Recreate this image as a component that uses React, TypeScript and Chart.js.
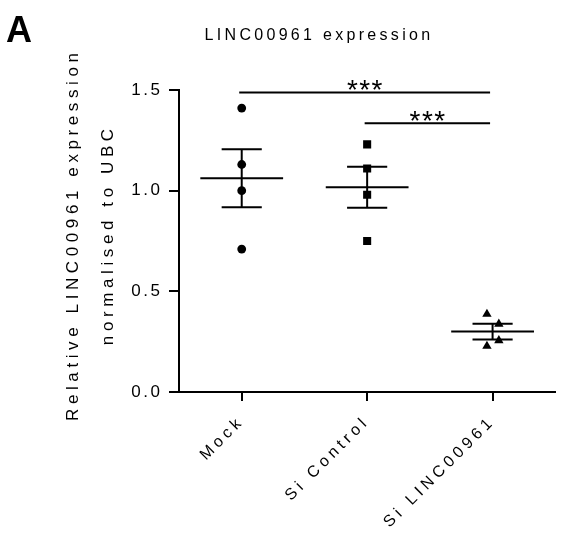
import React, { useEffect, useRef } from 'react';
import { Chart, registerables } from 'chart.js';

Chart.register(...registerables);

const panelLabel = 'A';
const chartTitle = 'LINC00961 expression';
const yTitleLines = ['Relative LINC00961 expression', 'normalised to UBC'];
const categories = ['Mock', 'Si Control', 'Si LINC00961'];
const mockValues = [1.41, 1.13, 1.0, 0.71];
const siControlValues = [1.23, 1.11, 0.98, 0.75];
const siLincValues = [0.387, 0.338, 0.256, 0.228];
const siLincJitter = [-0.045, 0.05, 0.05, -0.045];
const groupMeans = [1.062, 1.017, 0.3];
const groupSems = [0.144, 0.102, 0.039];
const yTicks = [0, 0.5, 1.0, 1.5];
const comparisonFrom = [0, 1];
const comparisonTo = [2, 2];
const comparisonY = [1.488, 1.335];
const comparisonLabels = ['***', '***'];

const FONT = 'Arial, "Liberation Sans", sans-serif';
const MEAN_HALF = 0.33;
const CAP_HALF = 0.16;
const BRACKET_SHIFT = -0.02;

type P = { x: number; y: number | null };

function buildMeanLines(): P[] {
  const out: P[] = [];
  groupMeans.forEach((m, i) => {
    out.push({ x: i - MEAN_HALF, y: m }, { x: i + MEAN_HALF, y: m }, { x: i + 0.45, y: null });
  });
  return out;
}

function buildErrorBars(): P[] {
  const out: P[] = [];
  groupMeans.forEach((m, i) => {
    const s = groupSems[i];
    out.push({ x: i, y: m - s }, { x: i, y: m + s }, { x: i + 0.01, y: null });
    out.push({ x: i - CAP_HALF, y: m + s }, { x: i + CAP_HALF, y: m + s }, { x: i + 0.2, y: null });
    out.push({ x: i - CAP_HALF, y: m - s }, { x: i + CAP_HALF, y: m - s }, { x: i + 0.3, y: null });
  });
  return out;
}

function buildBrackets(): P[] {
  const out: P[] = [];
  comparisonFrom.forEach((f, i) => {
    out.push(
      { x: f + BRACKET_SHIFT, y: comparisonY[i] },
      { x: comparisonTo[i] + BRACKET_SHIFT, y: comparisonY[i] },
      { x: comparisonTo[i] + 0.1, y: null }
    );
  });
  return out;
}

const spacingPlugin = {
  id: 'tickSpacing',
  afterLayout(chart: any) {
    const defs: [string, string][] = [
      ['x', '4.2px'],
      ['y', '2.5px'],
    ];
    for (const [id, sp] of defs) {
      const s = chart.scales[id];
      if (!s || s.__patched) continue;
      const orig = s.drawLabels.bind(s);
      s.drawLabels = (ca: any) => {
        const ctx = chart.ctx;
        ctx.save();
        (ctx as any).letterSpacing = sp;
        orig(ca);
        ctx.restore();
      };
      s.__patched = true;
    }
  },
};

const decorPlugin = {
  id: 'decor',
  afterDraw(chart: any) {
    const ctx: CanvasRenderingContext2D = chart.ctx;
    const xs = chart.scales.x;
    const ys = chart.scales.y;
    ctx.save();
    ctx.fillStyle = '#000';

    ctx.font = `bold 36px ${FONT}`;
    ctx.textAlign = 'left';
    ctx.textBaseline = 'alphabetic';
    ctx.fillText(panelLabel, 6, 42);

    ctx.font = `16px ${FONT}`;
    (ctx as any).letterSpacing = '3.3px';
    ctx.textAlign = 'center';
    ctx.textBaseline = 'middle';
    ctx.fillText(chartTitle, 319, 36);

    ctx.font = `17px ${FONT}`;
    (ctx as any).letterSpacing = '4.6px';
    const cy = (chart.chartArea.top + chart.chartArea.bottom) / 2 - 4;
    const lineX = [73, 108];
    yTitleLines.forEach((t, i) => {
      ctx.save();
      ctx.translate(lineX[i], cy);
      ctx.rotate(-Math.PI / 2);
      ctx.fillText(t, 2.3, 0);
      ctx.restore();
    });

    ctx.font = `28px ${FONT}`;
    (ctx as any).letterSpacing = '1.4px';
    ctx.textBaseline = 'alphabetic';
    comparisonLabels.forEach((lab, i) => {
      const x1 = xs.getPixelForValue(comparisonFrom[i] + BRACKET_SHIFT);
      const x2 = xs.getPixelForValue(comparisonTo[i] + BRACKET_SHIFT);
      const y = ys.getPixelForValue(comparisonY[i]);
      ctx.fillText(lab, (x1 + x2) / 2 + 0.7, y + 7);
    });
    ctx.restore();
  },
};

export default function App() {
  const ref = useRef<HTMLCanvasElement | null>(null);

  useEffect(() => {
    if (!ref.current) return;
    const lineStyle = {
      showLine: true,
      borderColor: '#000',
      borderWidth: 2,
      pointRadius: 0,
      pointHoverRadius: 0,
      fill: false,
      tension: 0,
      spanGaps: false,
      borderCapStyle: 'butt' as const,
    };
    const chart = new Chart(ref.current, {
      type: 'scatter',
      data: {
        datasets: [
          {
            label: categories[0],
            data: mockValues.map((v) => ({ x: 0, y: v })),
            pointStyle: 'circle',
            pointRadius: 4.4,
            backgroundColor: '#000',
            borderWidth: 0,
          },
          {
            label: categories[1],
            data: siControlValues.map((v) => ({ x: 1, y: v })),
            pointStyle: 'rect',
            pointRadius: 5.7,
            backgroundColor: '#000',
            borderWidth: 0,
          },
          {
            label: categories[2],
            data: siLincValues.map((v, i) => ({ x: 2 + siLincJitter[i], y: v })),
            pointStyle: 'triangle',
            pointRadius: 5.4,
            backgroundColor: '#000',
            borderWidth: 0,
          },
          { label: 'mean', data: buildMeanLines() as any, ...lineStyle },
          { label: 'sem', data: buildErrorBars() as any, ...lineStyle },
          { label: 'sig', data: buildBrackets() as any, ...lineStyle },
        ],
      },
      options: {
        animation: false,
        responsive: true,
        maintainAspectRatio: false,
        layout: { padding: { top: 90, right: 4, left: 0, bottom: 0 } },
        plugins: {
          legend: { display: false },
          title: { display: false },
          tooltip: { enabled: false },
        },
        scales: {
          x: {
            type: 'linear',
            min: -0.5,
            max: 2.5,
            afterBuildTicks: (s: any) => {
              s.ticks = categories.map((_, i) => ({ value: i }));
            },
            afterFit: (s: any) => {
              s.height = 145;
            },
            ticks: {
              callback: (v: any) => categories[Number(v)] ?? '',
              color: '#000',
              font: { family: FONT, size: 16 },
              minRotation: 45,
              maxRotation: 45,
              padding: 11,
              autoSkip: false,
            },
            grid: {
              drawOnChartArea: false,
              drawTicks: true,
              tickLength: 9,
              color: '#000',
              lineWidth: 2,
            },
            border: { display: true, color: '#000', width: 2 },
          },
          y: {
            type: 'linear',
            min: 0,
            max: 1.5,
            afterBuildTicks: (s: any) => {
              s.ticks = yTicks.map((v) => ({ value: v }));
            },
            afterFit: (s: any) => {
              s.width = 179;
            },
            ticks: {
              callback: (v: any) => Number(v).toFixed(1),
              color: '#000',
              font: { family: FONT, size: 17 },
              padding: 6.5,
            },
            grid: {
              drawOnChartArea: false,
              drawTicks: true,
              tickLength: 10,
              color: '#000',
              lineWidth: 2,
            },
            border: { display: true, color: '#000', width: 2 },
          },
        },
      },
      plugins: [spacingPlugin, decorPlugin],
    });
    return () => chart.destroy();
  }, []);

  return (
    <div style={{ position: 'fixed', left: 0, top: 0, width: 561, height: 537, background: '#fff' }}>
      <canvas ref={ref} />
    </div>
  );
}
